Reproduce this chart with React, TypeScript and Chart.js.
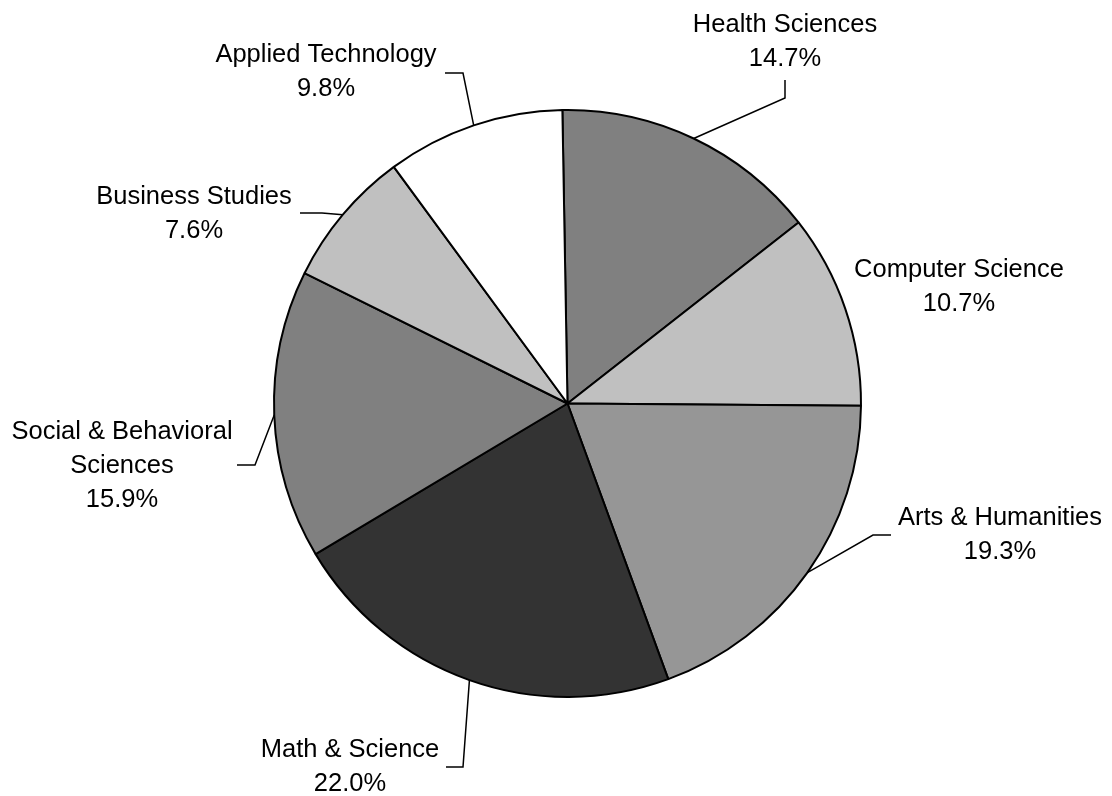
import React, { useEffect, useRef } from "react";
import { Chart, registerables } from "chart.js";

Chart.register(...registerables);

const categories = [
  "Health Sciences",
  "Computer Science",
  "Arts & Humanities",
  "Math & Science",
  "Social & Behavioral\nSciences",
  "Business Studies",
  "Applied Technology",
];
const shares = [14.7, 10.7, 19.3, 22.0, 15.9, 7.6, 9.8];
const sliceColors = ["#808080", "#C0C0C0", "#969696", "#333333", "#808080", "#C0C0C0", "#FFFFFF"];

// label layout: text centre x, first baseline y, leader elbow/end points (null = no leader)
const labelLayout: { cx: number; baseline: number; leader: number[][] | null }[] = [
  { cx: 785, baseline: 32, leader: [[785, 98], [785, 80]] },
  { cx: 959, baseline: 277, leader: null },
  { cx: 1000, baseline: 525, leader: [[873, 535], [891, 535]] },
  { cx: 350, baseline: 757, leader: [[463, 767], [446, 767]] },
  { cx: 122, baseline: 439, leader: [[255, 465], [237, 465]] },
  { cx: 194, baseline: 204, leader: [[322, 213], [300, 213]] },
  { cx: 326, baseline: 62, leader: [[463, 73], [445, 73]] },
];
const LINE_HEIGHT = 34;
const FONT = "25.5px 'Liberation Sans', Arial, sans-serif";

const labelPlugin = {
  id: "outsideLabels",
  afterDatasetsDraw(chart: any) {
    const ctx = chart.ctx as CanvasRenderingContext2D;
    const meta = chart.getDatasetMeta(0);
    ctx.save();
    ctx.font = FONT;
    ctx.fillStyle = "#000";
    ctx.strokeStyle = "#000";
    ctx.lineWidth = 1.5;
    ctx.textAlign = "center";
    ctx.textBaseline = "alphabetic";
    meta.data.forEach((arc: any, i: number) => {
      const lay = labelLayout[i];
      const { x, y, startAngle, endAngle, outerRadius } = arc.getProps(
        ["x", "y", "startAngle", "endAngle", "outerRadius"],
        true
      );
      const mid = (startAngle + endAngle) / 2;
      const ax = x + Math.cos(mid) * outerRadius;
      const ay = y + Math.sin(mid) * outerRadius;
      if (lay.leader) {
        ctx.beginPath();
        ctx.moveTo(ax, ay);
        lay.leader.forEach((p) => ctx.lineTo(p[0], p[1]));
        ctx.stroke();
      }
      const lines = categories[i].split("\n");
      lines.push(shares[i].toFixed(1) + "%");
      lines.forEach((t, k) => {
        ctx.fillText(t, lay.cx, lay.baseline + k * LINE_HEIGHT);
      });
    });
    ctx.restore();
  },
};

export default function App() {
  const ref = useRef<HTMLCanvasElement | null>(null);
  useEffect(() => {
    if (!ref.current) return;
    const chart = new Chart(ref.current, {
      type: "pie",
      data: {
        labels: categories.map((c) => c.replace("\n", " ")),
        datasets: [
          {
            data: shares,
            backgroundColor: sliceColors,
            borderColor: "#000000",
            borderWidth: 2,
            hoverOffset: 0,
          },
        ],
      },
      options: {
        animation: false,
        responsive: false,
        rotation: -1.0,
        layout: { padding: { top: 109, bottom: 98, left: 273, right: 250 } },
        plugins: {
          legend: { display: false },
          tooltip: { enabled: false },
        },
        events: [],
      },
      plugins: [labelPlugin],
    });
    return () => chart.destroy();
  }, []);
  return (
    <div style={{ position: "fixed", left: 0, top: 0, width: 1112, height: 796, background: "#fff" }}>
      <canvas ref={ref} width={1112} height={796} style={{ width: 1112, height: 796, display: "block" }} />
    </div>
  );
}
